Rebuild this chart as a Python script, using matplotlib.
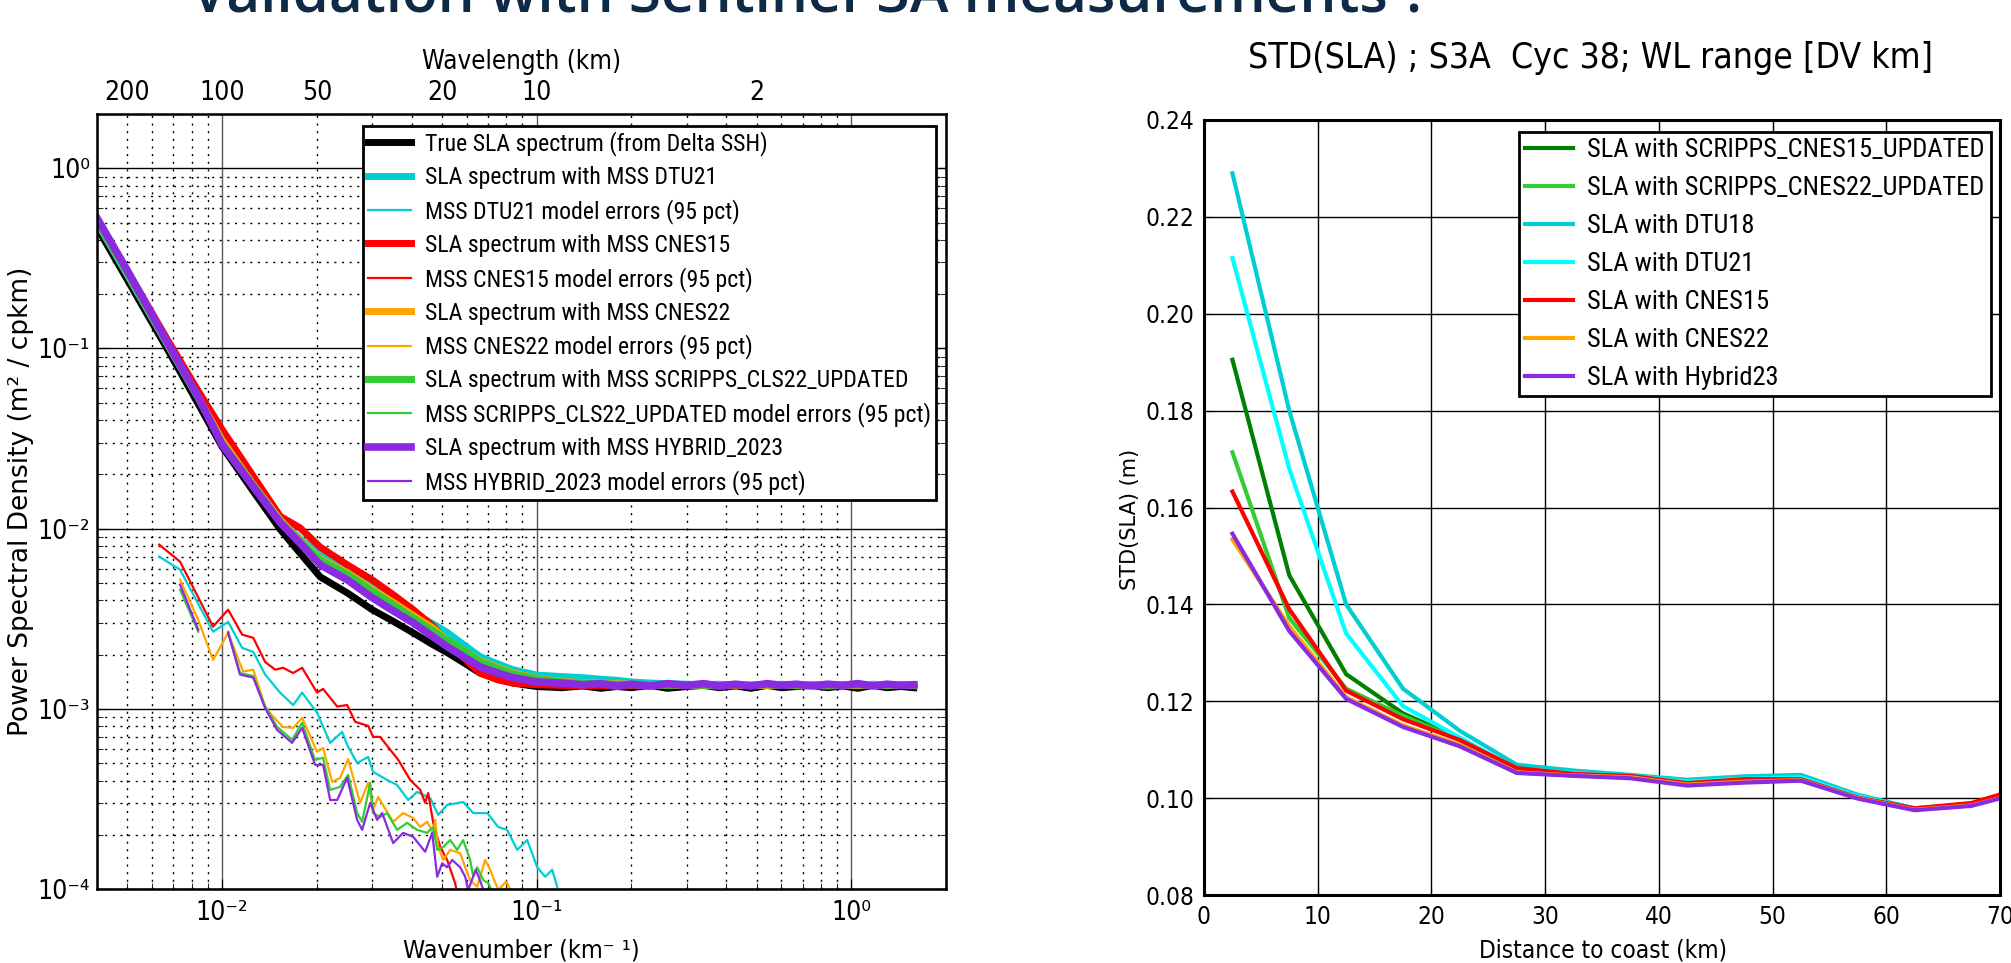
import os
import numpy as np
import matplotlib
matplotlib.use("Agg")
import matplotlib.pyplot as plt
from matplotlib import font_manager
from matplotlib.font_manager import FontProperties
from matplotlib.ticker import LogLocator, NullFormatter, MultipleLocator, FormatStrFormatter, FuncFormatter

# ---------------- left panel : wavenumber spectra ----------------
k_spec = [0.004, 0.005, 0.0067, 0.0083, 0.010, 0.0125, 0.0153, 0.0177, 0.0205, 0.025,
          0.030, 0.035, 0.0405, 0.047, 0.052, 0.059, 0.066, 0.075, 0.084, 0.100,
          0.12, 0.14, 0.16, 0.18, 0.20, 0.23, 0.26, 0.30, 0.34, 0.38, 0.43, 0.48,
          0.54, 0.60, 0.67, 0.75, 0.84, 0.94, 1.05, 1.17, 1.30, 1.44, 1.58]

psd_true = [0.47, 0.24, 0.099, 0.051, 0.0285, 0.0163, 0.0099, 0.0073, 0.0054, 0.0044,
            0.00355, 0.00306, 0.00264, 0.00226, 0.00205, 0.00179, 0.00158, 0.00148, 0.00139, 0.00133,
            0.00131, 0.00134, 0.00130, 0.00133, 0.00131, 0.00135, 0.00130, 0.00133, 0.00135, 0.00131,
            0.00134, 0.00130, 0.00135, 0.00131, 0.00133, 0.00135, 0.00131, 0.00134, 0.00130, 0.00135,
            0.00131, 0.00133, 0.00131]
psd_dtu21 = [0.50, 0.255, 0.105, 0.055, 0.031, 0.018, 0.0112, 0.0088, 0.0072, 0.0059,
             0.00476, 0.0040, 0.00341, 0.00295, 0.00265, 0.00225, 0.00195, 0.00178, 0.00165, 0.00154,
             0.00151, 0.00149, 0.00146, 0.00144, 0.00141, 0.00139, 0.00138, 0.00137, 0.00136, 0.00137,
             0.00135, 0.00136, 0.00135, 0.00137, 0.00135, 0.00136, 0.00135, 0.00136, 0.00135, 0.00137,
             0.00135, 0.00136, 0.00135]
psd_cnes15 = [0.52, 0.27, 0.112, 0.060, 0.0355, 0.0198, 0.0117, 0.0101, 0.0079, 0.0063,
              0.0052, 0.0043, 0.00355, 0.00286, 0.00233, 0.0019, 0.00158, 0.00145, 0.00139, 0.00136,
              0.00135, 0.00134, 0.00135, 0.00133, 0.00135, 0.00134, 0.00136, 0.00134, 0.00135, 0.00133,
              0.00135, 0.00134, 0.00135, 0.00136, 0.00134, 0.00135, 0.00133, 0.00135, 0.00134, 0.00135,
              0.00134, 0.00135, 0.00134]
psd_cnes22 = [0.51, 0.26, 0.106, 0.056, 0.031, 0.0178, 0.0112, 0.0086, 0.0068, 0.0057,
              0.0046, 0.0039, 0.0033, 0.0028, 0.0024, 0.0021, 0.00185, 0.0017, 0.00158, 0.00148,
              0.00142, 0.0014, 0.00139, 0.00138, 0.00137, 0.00136, 0.00136, 0.00135, 0.00136, 0.00135,
              0.00136, 0.00135, 0.00135, 0.00136, 0.00135, 0.00135, 0.00136, 0.00135, 0.00135, 0.00136,
              0.00135, 0.00135, 0.00135]
psd_scripps = [0.51, 0.26, 0.106, 0.055, 0.030, 0.0176, 0.011, 0.0085, 0.0067, 0.0056,
               0.0045, 0.0038, 0.0032, 0.0027, 0.0024, 0.0021, 0.00183, 0.00168, 0.00156, 0.00147,
               0.00141, 0.00139, 0.00138, 0.00137, 0.00136, 0.00136, 0.00135, 0.00136, 0.00135, 0.00135,
               0.00136, 0.00135, 0.00136, 0.00135, 0.00135, 0.00136, 0.00135, 0.00135, 0.00136, 0.00135,
               0.00135, 0.00136, 0.00135]
psd_hybrid = [0.53, 0.27, 0.108, 0.056, 0.0293, 0.0173, 0.0108, 0.0083, 0.0063, 0.0052,
              0.00414, 0.0035, 0.0030, 0.0025, 0.00221, 0.00193, 0.00171, 0.00158, 0.00149, 0.00141,
              0.00139, 0.00136, 0.00138, 0.00134, 0.00137, 0.00134, 0.00138, 0.00135, 0.00138, 0.00134,
              0.00137, 0.00134, 0.00138, 0.00135, 0.00137, 0.00134, 0.00137, 0.00135, 0.00138, 0.00134,
              0.00137, 0.00135, 0.00136]

# model errors (95 pct)
k_err_dtu21 = [0.00631, 0.00735, 0.00936, 0.01045, 0.01158, 0.01256, 0.0137, 0.01529, 0.01682, 0.01796,
               0.02004, 0.02205, 0.02407, 0.02515, 0.02687, 0.02912, 0.0302, 0.03346, 0.036, 0.03903,
               0.04169, 0.04585, 0.04862, 0.05192, 0.05838, 0.06284, 0.06963, 0.07543, 0.08054, 0.0867,
               0.09328, 0.1004, 0.1064, 0.112, 0.1162, 0.118]
err_dtu21 = [0.00699, 0.00592, 0.00268, 0.00304, 0.00218, 0.00207, 0.00155, 0.00123, 0.00105, 0.00123,
             0.000951, 0.000647, 0.000745, 0.000615, 0.000501, 0.000541, 0.000447, 0.000403, 0.000378, 0.000312,
             0.000346, 0.00032, 0.000258, 0.000293, 0.000304, 0.000264, 0.000264, 0.000221, 0.000213, 0.000165,
             0.000187, 0.000132, 0.000117, 0.000128, 0.000103, 0.00009]

k_err_cnes15 = [0.00631, 0.00735, 0.00936, 0.01045, 0.01158, 0.01256, 0.0137, 0.01475, 0.01563, 0.01682,
                0.01796, 0.02004, 0.02094, 0.02322, 0.02497, 0.02649, 0.02912, 0.0302, 0.03178, 0.0363,
                0.03963, 0.04264, 0.0442, 0.04519, 0.04689, 0.04936, 0.05192, 0.05502, 0.05585]
err_cnes15 = [0.00815, 0.00656, 0.00286, 0.00355, 0.00258, 0.00248, 0.00182, 0.00165, 0.00169, 0.00158,
              0.00169, 0.00123, 0.00129, 0.00103, 0.00105, 0.000847, 0.000805, 0.000699, 0.000699, 0.000521,
              0.000403, 0.000355, 0.000301, 0.000341, 0.000233, 0.000171, 0.000145, 0.000108, 0.000095]

k_err_cnes22 = [0.00735, 0.00839, 0.00936, 0.01045, 0.01166, 0.01256, 0.0137, 0.01453, 0.01563, 0.01682,
                0.01796, 0.02004, 0.02094, 0.02238, 0.02372, 0.02515, 0.02746, 0.02912, 0.0302, 0.03133,
                0.03497, 0.03762, 0.04049, 0.04262, 0.04485, 0.04688, 0.04756, 0.04862, 0.05044, 0.05309,
                0.05713, 0.05926, 0.06145, 0.06468, 0.06859, 0.07113, 0.07543, 0.0800, 0.0850]
err_cnes22 = [0.00521, 0.00312, 0.00187, 0.00264, 0.00161, 0.00165, 0.00103, 0.000903, 0.000794, 0.000784,
              0.000891, 0.000577, 0.000607, 0.000393, 0.000414, 0.000527, 0.000301, 0.000388, 0.000275, 0.000324,
              0.000236, 0.000264, 0.000248, 0.000221, 0.000236, 0.000205, 0.000242, 0.000171, 0.000145, 0.000165,
              0.000158, 0.000132, 0.000112, 0.000103, 0.000145, 0.000128, 0.000099, 0.000110, 0.000090]

k_err_scripps = [0.00735, 0.0084, 0.0094, 0.01045, 0.0114, 0.01256, 0.0137, 0.01496, 0.01669, 0.01796,
                 0.01975, 0.02094, 0.02205, 0.02372, 0.02515, 0.02687, 0.02787, 0.02956, 0.0302, 0.03178,
                 0.03346, 0.036, 0.03875, 0.04169, 0.04485, 0.04688, 0.04828, 0.05044, 0.05309, 0.05585,
                 0.05838, 0.06145, 0.06284, 0.06468, 0.06769, 0.07014, 0.07275]
err_scripps = [0.00458, 0.00268, np.nan, 0.00268, 0.00158, 0.00152, 0.00103, 0.000794, 0.000673, 0.000836,
               0.000521, 0.000535, 0.000355, 0.000369, 0.00043, 0.000264, 0.000236, 0.000388, 0.000264, 0.000251,
               0.000264, 0.000213, 0.000233, 0.000213, 0.000205, 0.000221, 0.000165, 0.000171, 0.000187, 0.000165,
               0.000187, 0.000145, 0.000117, 0.000132, 0.000112, 0.000108, 0.000095]

k_err_hybrid = [0.00735, 0.0084, 0.0094, 0.01045, 0.0114, 0.01256, 0.0137, 0.01496, 0.01669, 0.01796,
                0.01975, 0.02094, 0.02205, 0.02322, 0.02497, 0.02687, 0.02787, 0.02956, 0.03111, 0.03227,
                0.03497, 0.03762, 0.04049, 0.0442, 0.04654, 0.04828, 0.05007, 0.05192, 0.05385, 0.05713,
                0.05926, 0.06056, 0.0640, 0.0660, 0.0690]
err_hybrid = [0.00489, 0.00275, np.nan, 0.00264, 0.00155, 0.00149, 0.00101, 0.000764, 0.000647, 0.000784,
              0.000489, 0.000489, 0.000312, 0.000312, 0.000414, 0.000242, 0.000213, 0.000301, 0.000242, 0.000264,
              0.00018, 0.000205, 0.000195, 0.000161, 0.000205, 0.000117, 0.000139, 0.000132, 0.000145, 0.000132,
              0.000117, 0.0000987, 0.000128, 0.000112, 0.00009]

wl_ticks = [200, 100, 50, 20, 10, 2]

# ---------------- right panel : STD(SLA) vs distance to coast ----------------
dist = [2.5, 7.5, 12.5, 17.5, 22.5, 27.5, 32.5, 37.5, 42.5, 47.5, 52.5, 57.5, 62.5, 67.5, 72.5]
std_scripps15 = [0.1905, 0.146, 0.1256, 0.1175, 0.1123, 0.1055, 0.1048, 0.1046, 0.1032, 0.1038, 0.1038, 0.1002, 0.0977, 0.0986, 0.1020]
std_scripps22 = [0.1714, 0.1372, 0.1226, 0.1170, 0.1120, 0.1053, 0.1047, 0.1044, 0.1030, 0.1036, 0.1037, 0.1001, 0.0977, 0.0986, 0.1015]
std_dtu18 = [0.2290, 0.1800, 0.1400, 0.1226, 0.1139, 0.1069, 0.1057, 0.1048, 0.1038, 0.1045, 0.1048, 0.1007, 0.0979, 0.0988, 0.1025]
std_dtu21 = [0.2115, 0.1680, 0.1340, 0.1190, 0.1125, 0.1060, 0.1052, 0.1046, 0.1034, 0.1040, 0.1043, 0.1004, 0.0978, 0.0987, 0.1020]
std_cnes15 = [0.1633, 0.1390, 0.1222, 0.1163, 0.1120, 0.1062, 0.1050, 0.1046, 0.1031, 0.1039, 0.1039, 0.1001, 0.0979, 0.0990, 0.1025]
std_cnes22 = [0.1534, 0.1355, 0.1208, 0.1150, 0.1110, 0.1053, 0.1047, 0.1043, 0.1028, 0.1034, 0.1037, 0.1000, 0.0976, 0.0985, 0.1015]
std_hybrid = [0.1546, 0.1345, 0.1205, 0.1147, 0.1107, 0.1052, 0.1046, 0.1041, 0.1026, 0.1032, 0.1036, 0.0999, 0.0975, 0.0984, 0.1015]


# narrow fonts if the system has them (the slide image is squeezed horizontally)
def find_font(names):
    files = {os.path.basename(f.fname): f.fname for f in font_manager.fontManager.ttflist}
    for n in names:
        if n in files:
            return files[n]
    return None


cond_file = find_font(["DejaVuSansCondensed.ttf"])
narrow_file = find_font(["LiberationSansNarrow-Regular.ttf", "NotoSans-Condensed.ttf",
                         "RobotoCondensed-Regular.ttf", "NotoSans-SemiCondensed.ttf",
                         "DejaVuSansCondensed.ttf"])


def cfont(size):
    if cond_file:
        return FontProperties(fname=cond_file, size=size)
    return FontProperties(family="DejaVu Sans", size=size * 0.92)


def nfont(size):
    if narrow_file:
        return FontProperties(fname=narrow_file, size=size)
    return FontProperties(family="DejaVu Sans", size=size)


SUP = str.maketrans("-0123456789", "⁻⁰¹²³⁴⁵⁶⁷⁸⁹")


def pow10(v, pos):
    if v <= 0:
        return ""
    return "10" + str(int(round(np.log10(v)))).translate(SUP)


def fit_legend(axis, corner, text_w, box_h, handle_px, gap_px, pad_px):
    # size the legend so that its widest label and its box height match the slide
    size, spacing = 17.0, 0.4
    for it in range(6):
        fs = size * fig.dpi / 72.0
        leg = axis.legend(loc="upper right", bbox_to_anchor=(corner[0] / 2011, 1 - corner[1] / 963),
                          bbox_transform=fig.transFigure, prop=nfont(size), labelspacing=spacing,
                          handlelength=handle_px / fs, handletextpad=gap_px / fs, borderpad=pad_px / fs,
                          borderaxespad=0, fancybox=False, framealpha=1, edgecolor="black")
        leg.get_frame().set_linewidth(2)
        if it == 5:
            return leg
        fig.canvas.draw()
        tw = max(t.get_window_extent().width for t in leg.get_texts())
        h = leg.get_window_extent().height
        n = len(leg.get_texts())
        spacing = max(0.05, spacing + (box_h - h) / (n - 1) / fs)
        size = size * text_w / tw


fig = plt.figure(figsize=(20.11, 9.63), dpi=100)

# cut-off slide title
fig.text(191 / 2011, 1 - 12 / 963, "Validation with Sentinel-3A measurements ?",
         family="Open Sans", weight="semibold", size=42, color="#0f2a46", va="baseline")

# ---- left axes ----
ax = fig.add_axes([0.0482, 0.0768, 0.4222, 0.8048])
ax.set_xscale("log")
ax.set_yscale("log")

ax.plot(k_spec, psd_true, color="black", lw=5, label="True SLA spectrum (from Delta SSH)")
ax.plot(k_spec, psd_dtu21, color="darkturquoise", lw=5, label="SLA spectrum with MSS DTU21")
ax.plot(k_err_dtu21, err_dtu21, color="darkturquoise", lw=1.6, label="MSS DTU21 model errors (95 pct)")
ax.plot(k_spec, psd_cnes15, color="red", lw=5, label="SLA spectrum with MSS CNES15")
ax.plot(k_err_cnes15, err_cnes15, color="red", lw=1.6, label="MSS CNES15 model errors (95 pct)")
ax.plot(k_spec, psd_cnes22, color="orange", lw=5, label="SLA spectrum with MSS CNES22")
ax.plot(k_err_cnes22, err_cnes22, color="orange", lw=1.6, label="MSS CNES22 model errors (95 pct)")
ax.plot(k_spec, psd_scripps, color="limegreen", lw=5, label="SLA spectrum with MSS SCRIPPS_CLS22_UPDATED")
ax.plot(k_err_scripps, err_scripps, color="limegreen", lw=1.6, label="MSS SCRIPPS_CLS22_UPDATED model errors (95 pct)")
ax.plot(k_spec, psd_hybrid, color="blueviolet", lw=5.5, label="SLA spectrum with MSS HYBRID_2023")
ax.plot(k_err_hybrid, err_hybrid, color="blueviolet", lw=1.6, label="MSS HYBRID_2023 model errors (95 pct)")

ax.set_xlim(0.004, 2.0)
ax.set_ylim(1e-4, 2.0)
ax.xaxis.set_minor_locator(LogLocator(base=10, subs=np.arange(2, 10), numticks=20))
ax.yaxis.set_minor_locator(LogLocator(base=10, subs=np.arange(2, 10), numticks=20))
ax.xaxis.set_minor_formatter(NullFormatter())
ax.yaxis.set_minor_formatter(NullFormatter())
ax.set_xticks([1e-2, 1e-1, 1e0])
ax.set_yticks([1e-4, 1e-3, 1e-2, 1e-1, 1e0])
ax.xaxis.set_major_formatter(FuncFormatter(pow10))
ax.yaxis.set_major_formatter(FuncFormatter(pow10))
ax.grid(which="major", axis="y", color="black", lw=1.0, ls="-")
ax.grid(which="major", axis="x", color="0.35", lw=1.0, ls="-")
ax.grid(which="minor", color="black", lw=1.0, ls=(0, (1.5, 4)))
ax.tick_params(which="both", direction="in", top=True, right=True)
ax.tick_params(axis="y", pad=5)
ax.tick_params(axis="x", pad=8)
ax.tick_params(which="major", length=7)
ax.tick_params(which="minor", length=4)
for lab in ax.get_xticklabels() + ax.get_yticklabels():
    lab.set_fontproperties(cfont(19))
for s in ax.spines.values():
    s.set_linewidth(1.8)

ax.set_xlabel("Wavenumber (km⁻ ¹)", fontproperties=cfont(18))
ax.xaxis.label.set_va("center")
ax.xaxis.set_label_coords(0.5, -0.0787)
ax.set_ylabel("Power Spectral Density (m² / cpkm)", family="DejaVu Sans", size=19)
ax.yaxis.label.set_va("center")
ax.yaxis.set_label_coords(-0.0895, 0.5)

# top axis: wavelength
ax_top = ax.twiny()
ax_top.set_xscale("log")
ax_top.set_xlim(ax.get_xlim())
ax_top.set_xticks([1.0 / w for w in wl_ticks])
ax_top.set_xticklabels([str(w) for w in wl_ticks], fontproperties=cfont(19))
ax_top.xaxis.set_minor_locator(plt.NullLocator())
ax_top.tick_params(axis="x", length=0, pad=6)
ax_top.set_xlabel("Wavelength (km)", fontproperties=cfont(18.5))
ax_top.xaxis.label.set_va("center")
ax_top.xaxis.set_label_coords(0.5, 1.067)

# ---- right axes ----
ax2 = fig.add_axes([0.5987, 0.0706, 0.3958, 0.8048])
ax2.plot(dist, std_scripps15, color="green", lw=3, label="SLA with SCRIPPS_CNES15_UPDATED")
ax2.plot(dist, std_scripps22, color="limegreen", lw=3, label="SLA with SCRIPPS_CNES22_UPDATED")
ax2.plot(dist, std_dtu18, color="darkturquoise", lw=3, label="SLA with DTU18")
ax2.plot(dist, std_dtu21, color="cyan", lw=3, label="SLA with DTU21")
ax2.plot(dist, std_cnes15, color="red", lw=3, label="SLA with CNES15")
ax2.plot(dist, std_cnes22, color="orange", lw=3, label="SLA with CNES22")
ax2.plot(dist, std_hybrid, color="blueviolet", lw=3, label="SLA with Hybrid23")

ax2.set_xlim(0, 70)
ax2.set_ylim(0.08, 0.24)
ax2.xaxis.set_major_locator(MultipleLocator(10))
ax2.yaxis.set_major_locator(MultipleLocator(0.02))
ax2.yaxis.set_major_formatter(FormatStrFormatter("%.2f"))
ax2.grid(True, color="black", lw=1.0)
ax2.tick_params(direction="in", top=True, right=True, length=6, pad=7)
for lab in ax2.get_xticklabels() + ax2.get_yticklabels():
    lab.set_fontproperties(cfont(17.5))
for s in ax2.spines.values():
    s.set_linewidth(2.2)

ax2.set_xlabel("Distance to coast (km)", fontproperties=cfont(17.5))
ax2.xaxis.label.set_va("center")
ax2.xaxis.set_label_coords(0.501, -0.071)
ax2.set_ylabel("STD(SLA) (m)", family="DejaVu Sans", size=15)
ax2.yaxis.label.set_va("center")
ax2.yaxis.set_label_coords(-0.093, 0.484)

fig.text(1590 / 2011, 1 - 58 / 963, "STD(SLA) ; S3A  Cyc 38; WL range [DV km]",
         fontproperties=cfont(25.5), ha="center", va="center")

# legends fitted to the boxes seen on the slide
fit_legend(ax, (936, 126), text_w=503, box_h=374, handle_px=43, gap_px=14, pad_px=5)
fit_legend(ax2, (1991, 132), text_w=396, box_h=264, handle_px=48, gap_px=14, pad_px=6)

fig.savefig("out.png", dpi=100, facecolor="white")
